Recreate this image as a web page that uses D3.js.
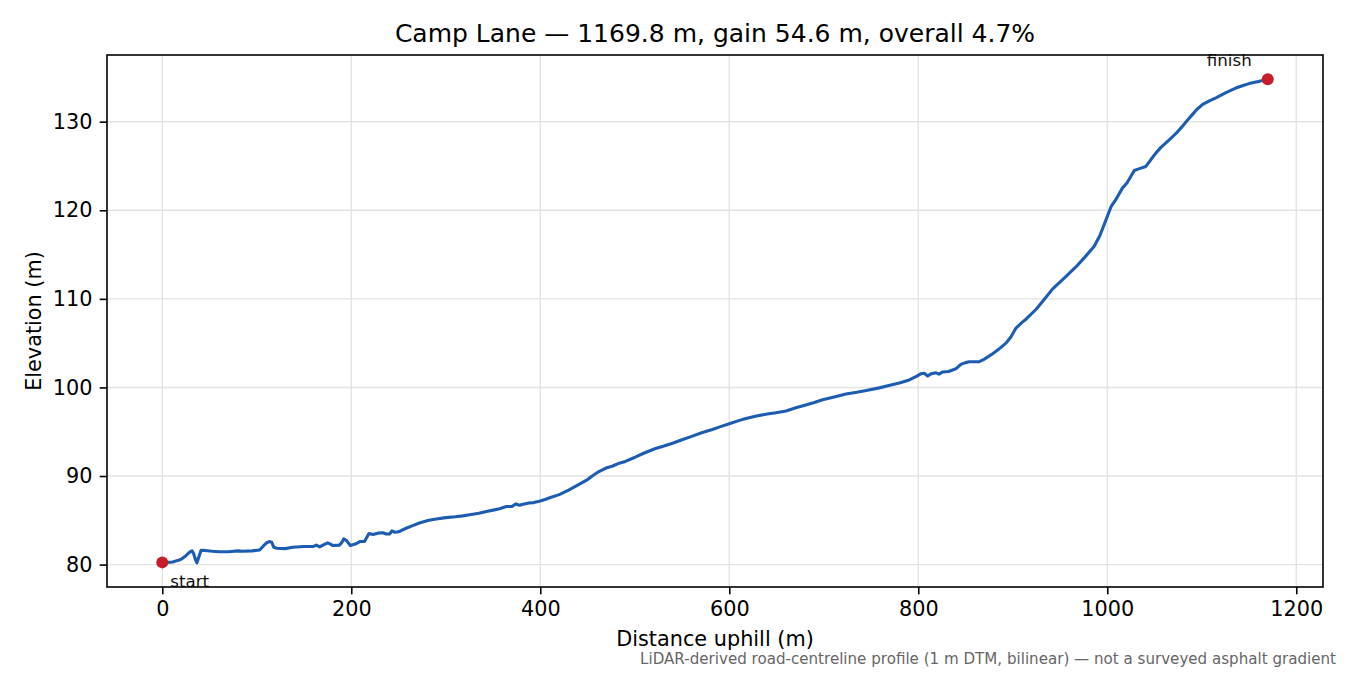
<!DOCTYPE html>
<html>
<head>
<meta charset="utf-8">
<script src="https://cdn.jsdelivr.net/npm/d3@7"></script>
<style>
  html, body { margin: 0; padding: 0; background: #fff; }
  svg { display: block; font-family: "DejaVu Sans", sans-serif; }
</style>
</head>
<body>
<svg id="chart" width="1350" height="675"></svg>
<script>
// ---- data ----
const distance = [0,5,11,16,20,25,29,31.5,33,35,36.7,38.5,41,45,53,60,70,80,85,95,103,107,111,114,116,118,121,130,138,150,160,163,166.6,170,175,178,180.5,187.6,190,192,195,199,205,209,214,218.7,223,228,233.5,237,240.6,243,246,250,258,265,272,282,290,300,310,318,327,335,343,350,357,364,370,374,378,383,388,393,399,405,410,420,430,441,450,455,462,469.5,476,483.6,490,501,510,522,530,540,550,561,570,582,590,600,610,617.6,630,640,649.4,660,670.5,680,690,698.7,710,723.5,735,745,758.7,770,780,790.5,798,803,806.3,810,814,818.7,822,826,832,839.8,845,850,854,860,864.6,870,878.7,885,892.8,898,903.4,910.4,914,924.5,933,942,955,966.8,977,986,992,998.6,1004,1009,1016,1021,1028.6,1034,1040.9,1046,1051,1056.8,1067,1073,1079.7,1085,1090,1095,1101,1108,1115,1125,1136,1143,1150,1160,1169.8];
const elevation = [80.25,80.25,80.3,80.45,80.6,81.0,81.4,81.55,81.3,80.6,80.2,80.8,81.6,81.6,81.5,81.45,81.45,81.55,81.5,81.55,81.65,82.1,82.5,82.6,82.5,81.95,81.85,81.8,81.95,82.05,82.05,82.2,82.0,82.2,82.45,82.3,82.15,82.2,82.5,82.9,82.7,82.15,82.35,82.6,82.6,83.5,83.4,83.55,83.6,83.45,83.45,83.8,83.65,83.7,84.1,84.4,84.7,85.0,85.15,85.3,85.4,85.5,85.65,85.8,86.0,86.15,86.3,86.55,86.55,86.85,86.7,86.85,86.95,87.0,87.15,87.35,87.55,87.9,88.4,89.05,89.6,90.0,90.5,90.9,91.1,91.45,91.65,92.15,92.6,93.1,93.35,93.7,94.1,94.5,94.85,95.25,95.55,95.9,96.25,96.5,96.8,97.0,97.15,97.35,97.7,98.0,98.3,98.6,98.9,99.25,99.45,99.65,99.95,100.25,100.5,100.85,101.25,101.55,101.6,101.3,101.55,101.65,101.5,101.75,101.8,102.1,102.6,102.8,102.9,102.9,102.9,103.2,103.8,104.3,105.0,105.7,106.7,107.4,107.7,108.8,109.9,111.1,112.4,113.6,114.8,115.9,117.1,118.9,120.4,121.2,122.5,123.1,124.5,124.7,124.95,125.7,126.4,127.1,128.1,128.7,129.5,130.2,130.8,131.4,131.95,132.35,132.7,133.25,133.8,134.05,134.3,134.55,134.8];
const xTicks = [0,200,400,600,800,1000,1200];
const yTicks = [80,90,100,110,120,130];
const titleText = "Camp Lane \u2014 1169.8 m, gain 54.6 m, overall 4.7%";
const xLabel = "Distance uphill (m)";
const yLabel = "Elevation (m)";
const footnote = "LiDAR-derived road-centreline profile (1 m DTM, bilinear) \u2014 not a surveyed asphalt gradient";
const endLabels = ["start", "finish"];

// ---- layout ----
const W = 1350, H = 675;
const m = { left: 107, right: 1323, top: 55, bottom: 587 };
const svg = d3.select("#chart");
const pts = distance.map((d, i) => ({ d, e: elevation[i] }));

const xExt = d3.extent(distance), yExt = d3.extent(elevation);
const xPad = (xExt[1] - xExt[0]) * 0.05, yPad = (yExt[1] - yExt[0]) * 0.05;
const x = d3.scaleLinear().domain([xExt[0] - xPad, xExt[1] + xPad]).range([m.left, m.right]);
const y = d3.scaleLinear().domain([yExt[0] - yPad, yExt[1] + yPad]).range([m.bottom, m.top]);

// grid
const grid = svg.append("g");
grid.selectAll("line.gx").data(xTicks).join("line")
  .attr("x1", d => x(d)).attr("x2", d => x(d))
  .attr("y1", m.top).attr("y2", m.bottom)
  .attr("stroke", "#e3e3e3").attr("stroke-width", 1.4);
grid.selectAll("line.gy").data(yTicks).join("line")
  .attr("y1", d => y(d)).attr("y2", d => y(d))
  .attr("x1", m.left).attr("x2", m.right)
  .attr("stroke", "#e3e3e3").attr("stroke-width", 1.4);

// line
const line = d3.line().x(p => x(p.d)).y(p => y(p.e));
svg.append("path").datum(pts)
  .attr("d", line)
  .attr("fill", "none")
  .attr("stroke", "#1c5db3")
  .attr("stroke-width", 3.1)
  .attr("stroke-linejoin", "round")
  .attr("stroke-linecap", "round");

// endpoints
const ends = [pts[0], pts[pts.length - 1]];
svg.selectAll("circle.end").data(ends).join("circle")
  .attr("cx", p => x(p.d)).attr("cy", p => y(p.e)).attr("r", 6)
  .attr("fill", "#c41e2b");

svg.append("text").attr("x", x(ends[0].d) + 8).attr("y", y(ends[0].e) + 25)
  .attr("font-size", 16.7).attr("fill", "#111").text(endLabels[0]);
svg.append("text").attr("x", x(ends[1].d) - 16).attr("y", y(ends[1].e) - 13)
  .attr("text-anchor", "end")
  .attr("font-size", 16.7).attr("fill", "#111").text(endLabels[1]);

// axes
const xAxis = d3.axisBottom(x).tickValues(xTicks).tickSize(7.3).tickPadding(7.3).tickFormat(d3.format("d"));
const yAxis = d3.axisLeft(y).tickValues(yTicks).tickSize(7.3).tickPadding(7.3).tickFormat(d3.format("d"));
const gx = svg.append("g").attr("transform", `translate(0,${m.bottom})`).call(xAxis);
const gy = svg.append("g").attr("transform", `translate(${m.left},0)`).call(yAxis);
[gx, gy].forEach(g => {
  g.select(".domain").remove();
  g.selectAll(".tick line").attr("stroke", "#000").attr("stroke-width", 1.6);
  g.selectAll(".tick text").attr("font-size", 20.8).attr("fill", "#000")
    .attr("font-family", "DejaVu Sans");
});

// frame
svg.append("rect").attr("x", m.left).attr("y", m.top)
  .attr("width", m.right - m.left).attr("height", m.bottom - m.top)
  .attr("fill", "none").attr("stroke", "#000").attr("stroke-width", 1.6);

// title & labels
svg.append("text").attr("x", (m.left + m.right) / 2).attr("y", 42)
  .attr("text-anchor", "middle").attr("font-size", 25).attr("fill", "#000").text(titleText);
svg.append("text").attr("x", (m.left + m.right) / 2).attr("y", 646)
  .attr("text-anchor", "middle").attr("font-size", 20.8).attr("fill", "#000").text(xLabel);
svg.append("text").attr("transform", `translate(41,${(m.top + m.bottom) / 2}) rotate(-90)`)
  .attr("text-anchor", "middle").attr("font-size", 20.8).attr("fill", "#000").text(yLabel);
svg.append("text").attr("x", 1336).attr("y", 664)
  .attr("text-anchor", "end").attr("font-size", 15.1).attr("fill", "#666").text(footnote);
</script>
</body>
</html>
